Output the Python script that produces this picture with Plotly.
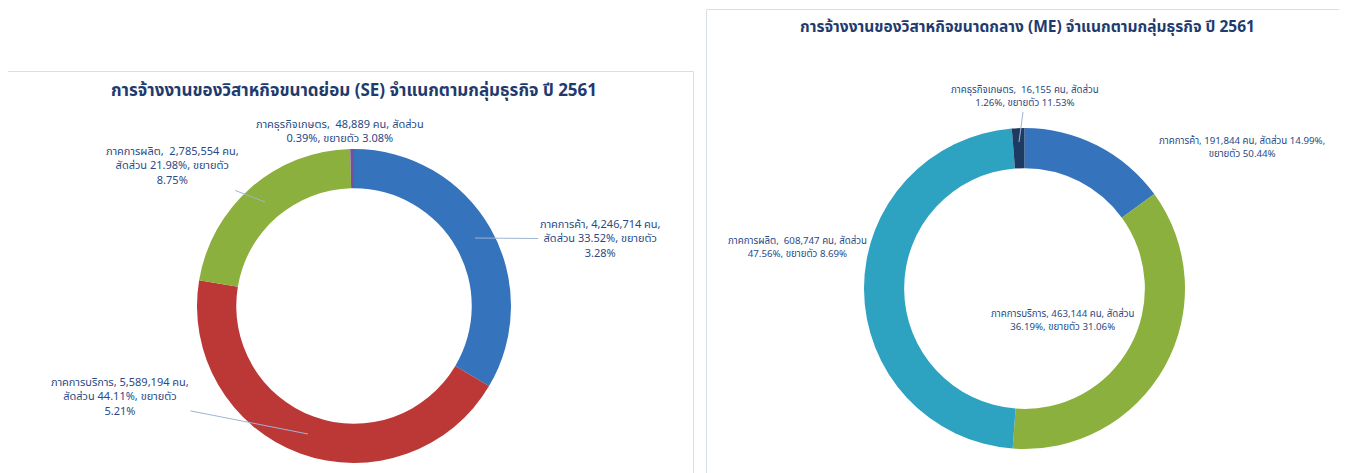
import plotly.graph_objects as go

## Datos

se_labels = ["ภาคการค้า", "ภาคการบริการ", "ภาคการผลิต", "ภาคธุรกิจเกษตร"]
se_values = [4246714, 5589194, 2785554, 48889]
se_share = [33.52, 44.11, 21.98, 0.39]
se_growth = [3.28, 5.21, 8.75, 3.08]

me_labels = ["ภาคการค้า", "ภาคการบริการ", "ภาคการผลิต", "ภาคธุรกิจเกษตร"]
me_values = [191844, 463144, 608747, 16155]
me_share = [14.99, 36.19, 47.56, 1.26]
me_growth = [50.44, 31.06, 8.69, 11.53]

se_title = "การจ้างงานของวิสาหกิจขนาดย่อม (SE) จำแนกตามกลุ่มธุรกิจ ปี 2561"
me_title = "การจ้างงานของวิสาหกิจขนาดกลาง (ME) จำแนกตามกลุ่มธุรกิจ ปี 2561"

se_colors = ["#3573bd", "#bb3836", "#8cb03e", "#7a4f9a"]
me_colors = ["#3573bd", "#8cb03e", "#2ea2c1", "#1c3a62"]

# la página deja 8px de margen en el body, así que el lienzo es algo menor
OFF = 8
W, H = 1347 - OFF, 473 - OFF
FONT = "Tahoma, 'Noto Sans Thai', Loma, 'Noto Sans', sans-serif"
TXT = "#2a4a85"


def px(x):
    return (x - OFF) / W


def py(y):
    return 1 - (y - OFF) / H


# plantillas de etiqueta (donde corta la línea cada una)
se_tpl = ["{l}, {v} คน,<br>สัดส่วน {s}%, ขยายตัว<br>{g}%",
          "{l}, {v} คน,<br>สัดส่วน {s}%, ขยายตัว<br>{g}%",
          "{l},  {v} คน,<br>สัดส่วน {s}%, ขยายตัว<br>{g}%",
          "{l},  {v} คน, สัดส่วน<br>{s}%, ขยายตัว {g}%"]
me_tpl = ["{l}, {v} คน, สัดส่วน {s}%,<br>ขยายตัว {g}%",
          "{l}, {v} คน, สัดส่วน<br>{s}%, ขยายตัว {g}%",
          "{l},  {v} คน, สัดส่วน<br>{s}%, ขยายตัว {g}%",
          "{l},  {v} คน, สัดส่วน<br>{s}%, ขยายตัว {g}%"]

# posición del texto (centro) y punta de la línea guía
se_pos = [(600, 239, 475, 238), (120, 397, 308, 434), (172, 166, 265, 202), (340, 131, None, None)]
me_pos = [(1242, 148, None, None), (1063, 320, None, None), (797, 247, None, None), (1025, 97, 1019, 142)]

fig = go.Figure()

fig.add_trace(go.Pie(labels=se_labels, values=se_values, hole=0.75, sort=False,
                     direction="clockwise", rotation=0, textinfo="none",
                     marker=dict(colors=se_colors, line=dict(width=0)),
                     domain=dict(x=[px(197), px(511)], y=[py(463), py(149)]),
                     showlegend=False))

fig.add_trace(go.Pie(labels=me_labels, values=me_values, hole=0.75, sort=False,
                     direction="clockwise", rotation=0, textinfo="none",
                     marker=dict(colors=me_colors, line=dict(width=0)),
                     domain=dict(x=[px(864), px(1185)], y=[py(449), py(128)]),
                     showlegend=False))

annotations = []

for labels, values, share, growth, tpl, pos, fs in [(se_labels, se_values, se_share, se_growth, se_tpl, se_pos, 11),
                                                    (me_labels, me_values, me_share, me_growth, me_tpl, me_pos, 9.7)]:
    for i in range(len(labels)):
        text = tpl[i].format(l=labels[i], v=f"{values[i]:,}", s=f"{share[i]:.2f}", g=f"{growth[i]:.2f}")
        tx, ty, ex, ey = pos[i]
        if ex is None:
            annotations.append(dict(x=px(tx), y=py(ty), xref="paper", yref="paper", text=text,
                                    xanchor="center", yanchor="middle",
                                    showarrow=False, align="center",
                                    font=dict(size=fs, color=TXT, family=FONT)))
        else:
            annotations.append(dict(x=px(ex), y=py(ey), xref="paper", yref="paper", text=text,
                                    showarrow=True, arrowhead=0, arrowwidth=1, arrowcolor="#9fb4d3",
                                    ax=tx - ex, ay=ty - ey, align="center",
                                    font=dict(size=fs, color=TXT, family=FONT)))

annotations.append(dict(x=px(354), y=py(91), xref="paper", yref="paper", showarrow=False,
                        xanchor="center", yanchor="middle",
                        text="<b>" + se_title + "</b>", font=dict(size=17, color="#1f3b6e", family=FONT)))
annotations.append(dict(x=px(1027), y=py(28), xref="paper", yref="paper", showarrow=False,
                        xanchor="center", yanchor="middle",
                        text="<b>" + me_title + "</b>", font=dict(size=15.5, color="#1f3b6e", family=FONT)))

# marcos de los dos paneles
shapes = [dict(type="rect", xref="paper", yref="paper", x0=px(7.5), x1=px(693.5), y0=py(490), y1=py(71.5),
               line=dict(color="#d6e0ea", width=1)),
          dict(type="rect", xref="paper", yref="paper", x0=px(706.5), x1=px(1342.5), y0=py(490), y1=py(9.5),
               line=dict(color="#d6e0ea", width=1))]

fig.update_layout(width=W, height=H, margin=dict(l=0, r=0, t=0, b=0),
                  paper_bgcolor="white", plot_bgcolor="white",
                  annotations=annotations, shapes=shapes, font=dict(family=FONT))

fig.write_html("out.html")
